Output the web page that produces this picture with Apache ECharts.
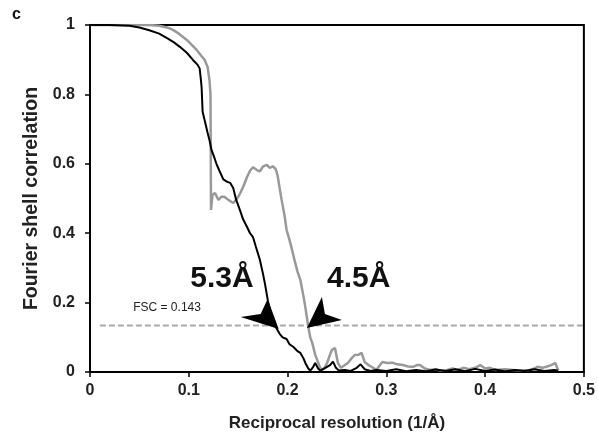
<!DOCTYPE html>
<html>
<head>
<meta charset="utf-8">
<script src="https://cdn.jsdelivr.net/npm/echarts@6/dist/echarts.min.js"></script>
<style>html,body{margin:0;padding:0;background:#fff;}#c{width:598px;height:442px;}</style>
</head>
<body>
<div id="c"></div>
<script>
// ---- data ----
const xTicks = [0, 0.1, 0.2, 0.3, 0.4, 0.5];
const yTicks = [0, 0.2, 0.4, 0.6, 0.8, 1];

const blackX = [0,0.02,0.04,0.05,0.06,0.07,0.078,0.085,0.091,0.098,0.104,0.109,0.111,0.112,0.113,0.114,0.116,0.119,0.121,0.123,0.125,0.128,0.131,0.135,0.139,0.142,0.145,0.148,0.152,0.155,0.159,0.162,0.165,0.168,0.172,0.175,0.177,0.180,0.182,0.184,0.187,0.189,0.192,0.195,0.199,0.202,0.206,0.210,0.213,0.216,0.218,0.221,0.223,0.226,0.228,0.231,0.233,0.237,0.240,0.243,0.246,0.249,0.252,0.258,0.264,0.270,0.274,0.278,0.284,0.29,0.30,0.31,0.32,0.33,0.34,0.35,0.36,0.37,0.38,0.39,0.40,0.41,0.42,0.43,0.44,0.45,0.46,0.47,0.474];
const blackY = [1,1,0.998,0.993,0.985,0.975,0.962,0.95,0.937,0.92,0.90,0.885,0.875,0.85,0.82,0.75,0.726,0.69,0.668,0.64,0.625,0.60,0.58,0.555,0.548,0.545,0.53,0.496,0.465,0.44,0.418,0.40,0.389,0.36,0.323,0.285,0.256,0.207,0.18,0.16,0.135,0.13,0.11,0.10,0.095,0.08,0.072,0.06,0.055,0.04,0.026,0.01,0.004,0.015,0.026,0.01,0.004,0.01,0.015,0.02,0.03,0.012,0.004,0.006,0.003,0.012,0.022,0.008,0.003,0.006,0.003,0.008,0.002,0.006,0.002,0.007,0.003,0.008,0.002,0.009,0.003,0.007,0.002,0.006,0.003,0.008,0.003,0.006,0.004];

const greyX = [0,0.06,0.07,0.078,0.084,0.09,0.098,0.104,0.108,0.113,0.116,0.119,0.120,0.121,0.122,0.1225,0.124,0.1265,0.13,0.133,0.136,0.140,0.145,0.149,0.152,0.155,0.159,0.162,0.165,0.169,0.172,0.175,0.179,0.182,0.185,0.188,0.190,0.192,0.194,0.197,0.199,0.203,0.207,0.210,0.213,0.216,0.218,0.221,0.223,0.225,0.228,0.230,0.233,0.235,0.238,0.240,0.243,0.245,0.248,0.251,0.254,0.256,0.261,0.265,0.268,0.272,0.275,0.278,0.282,0.285,0.290,0.293,0.296,0.301,0.306,0.311,0.317,0.322,0.327,0.331,0.334,0.339,0.344,0.35,0.355,0.361,0.367,0.372,0.378,0.384,0.39,0.395,0.40,0.405,0.41,0.42,0.428,0.435,0.445,0.45,0.453,0.458,0.462,0.467,0.471,0.474];
const greyY = [1,1,0.998,0.993,0.986,0.975,0.957,0.94,0.928,0.91,0.90,0.88,0.86,0.84,0.80,0.467,0.51,0.516,0.496,0.505,0.505,0.496,0.487,0.50,0.515,0.533,0.562,0.58,0.59,0.582,0.578,0.592,0.597,0.588,0.593,0.585,0.565,0.53,0.496,0.45,0.41,0.37,0.323,0.29,0.265,0.22,0.187,0.130,0.10,0.084,0.05,0.035,0.012,0.006,0.015,0.026,0.05,0.064,0.069,0.026,0.012,0.015,0.026,0.04,0.049,0.05,0.055,0.029,0.02,0.015,0.006,0.018,0.029,0.026,0.027,0.022,0.02,0.016,0.015,0.02,0.02,0.01,0.006,0.008,0.004,0.005,0.01,0.006,0.012,0.008,0.012,0.02,0.01,0.012,0.006,0.008,0.006,0.004,0.006,0.01,0.015,0.012,0.015,0.02,0.026,0.005];

const fscX = [0.01, 0.5];
const fscY = [0.134, 0.134];

const labels = [
  {text: '5.3Å', x: 0.1336, y: 0.268},
  {text: '4.5Å', x: 0.272, y: 0.268}
];
const fscLabel = {text: 'FSC = 0.143', x: 0.078, y: 0.184};
const arrowTips = [
  {x: 0.191, y: 0.124, dir: 'left'},
  {x: 0.2196, y: 0.127, dir: 'right'}
];

const zip = (a, b) => a.map((v, i) => [v, b[i]]);
const FONT = 'Liberation Sans, Arial, sans-serif';

const chart = echarts.init(document.getElementById('c'), null, {renderer: 'canvas'});
chart.setOption({
  animation: false,
  backgroundColor: '#fff',
  grid: {left: 90, right: 14, top: 25, bottom: 70, show: true, borderColor: '#000', borderWidth: 2, backgroundColor: 'transparent'},
  xAxis: {
    type: 'value', min: xTicks[0], max: xTicks[xTicks.length - 1], interval: 0.1,
    axisLine: {lineStyle: {color: '#000', width: 2}},
    axisTick: {length: 5, lineStyle: {color: '#000', width: 1.5}},
    axisLabel: {margin: 11, fontSize: 16, fontWeight: 'bold', color: '#222', fontFamily: FONT},
    splitLine: {show: false},
    name: 'Reciprocal resolution (1/Å)', nameLocation: 'middle', nameGap: 43,
    nameTextStyle: {fontSize: 17, fontWeight: 'bold', color: '#222', fontFamily: FONT}
  },
  yAxis: {
    type: 'value', min: yTicks[0], max: yTicks[yTicks.length - 1], interval: 0.2,
    axisLine: {show: true, lineStyle: {color: '#000', width: 2}},
    axisTick: {show: true, length: 5, lineStyle: {color: '#000', width: 1.5}},
    axisLabel: {margin: 15, fontSize: 16, fontWeight: 'bold', color: '#222', fontFamily: FONT},
    splitLine: {show: false},
    name: 'Fourier shell correlation', nameLocation: 'middle', nameGap: 46,
    nameTextStyle: {fontSize: 19.5, fontWeight: 'bold', color: '#222', fontFamily: FONT}
  },
  series: [
    {type: 'line', data: zip(fscX, fscY), showSymbol: false, silent: true,
     lineStyle: {color: '#aaaaaa', width: 2, type: [6, 3]}, z: 1},
    {type: 'line', data: zip(greyX, greyY), showSymbol: false,
     lineStyle: {color: '#999999', width: 2.5}, z: 2},
    {type: 'line', data: zip(blackX, blackY), showSymbol: false,
     lineStyle: {color: '#000000', width: 2}, z: 3}
  ]
});

// annotations positioned through the chart's own scales
const px = (x, y) => chart.convertToPixel({gridIndex: 0}, [x, y]);
const arrowShapes = {
  left:  [[0, 0], [-38, -12], [-18, -15], [-11, -30]],
  right: [[0, 0], [15, -31], [18, -14], [35, -8]]
};
const g = [];
g.push({type: 'text', left: 12, top: 7, style: {text: 'c', font: 'bold 16px ' + FONT, fill: '#111'}});
labels.forEach(l => {
  const p = px(l.x, l.y);
  g.push({type: 'text', x: p[0], y: p[1], z: 10,
    style: {text: l.text, font: 'bold 30px ' + FONT, fill: '#111', align: 'center', verticalAlign: 'middle'}});
});
{
  const p = px(fscLabel.x, fscLabel.y);
  g.push({type: 'text', x: p[0], y: p[1], z: 10,
    style: {text: fscLabel.text, font: '12px ' + FONT, fill: '#222', align: 'center', verticalAlign: 'middle'}});
}
arrowTips.forEach(a => {
  const p = px(a.x, a.y);
  g.push({type: 'polygon', z: 10,
    shape: {points: arrowShapes[a.dir].map(o => [p[0] + o[0], p[1] + o[1]])},
    style: {fill: '#000'}});
});
chart.setOption({graphic: g});
</script>
</body>
</html>
